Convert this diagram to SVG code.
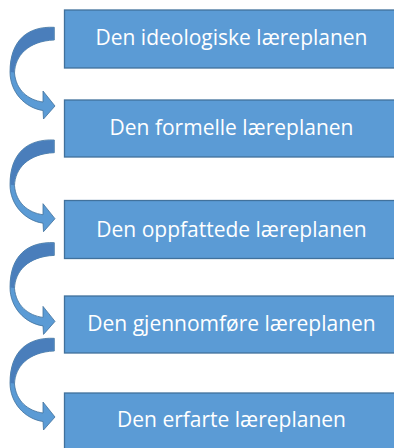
<svg xmlns="http://www.w3.org/2000/svg" width="394" height="448" viewBox="0 0 394 448">
<style>
.box{fill:#5B9BD5;stroke:#41719C;stroke-width:1.3}
.lbl{fill:#FFFFFF;font-family:"Open Sans","Liberation Sans",sans-serif;font-size:21px;text-anchor:middle}
.arr{fill:#5B9BD5;stroke:#41719C;stroke-width:0.8;stroke-linejoin:round}
.shade{fill:#4A7EBB}
</style>
<defs>
<g id="curvedArrow">
<path class="arr" d="M54.3,27.3 C28,26 10,40 10,72 C10,92 25,108 43,110.5 L43.5,119 L55,106 L43,91 L43,102 C28,100 16,90 14.5,73 C15,56 28,41 54.3,40 Z"/>
<path class="shade" d="M53.8,27.9 C28,26.6 10.6,40 10.6,72 L14,72.6 C14.6,56 28,41.5 53.8,39.5 Z"/>
</g>
</defs>
<g id="connectors">
<use href="#curvedArrow"/>
<use href="#curvedArrow" transform="translate(0,112.7)"/>
<use href="#curvedArrow" transform="translate(0,215.4)"/>
<use href="#curvedArrow" transform="translate(0,311)"/>
</g>
<g id="node1">
<rect class="box" x="64.5" y="10" width="334" height="58"/>
<text class="lbl" x="231.5" y="45">Den ideologiske læreplanen</text>
</g>
<g id="node2">
<rect class="box" x="64.5" y="100" width="334" height="57"/>
<text class="lbl" x="231.5" y="135">Den formelle læreplanen</text>
</g>
<g id="node3">
<rect class="box" x="64.5" y="200.5" width="334" height="58"/>
<text class="lbl" x="231.5" y="237">Den oppfattede læreplanen</text>
</g>
<g id="node4">
<rect class="box" x="64.5" y="296" width="334" height="57"/>
<text class="lbl" x="231.5" y="331">Den gjennomføre læreplanen</text>
</g>
<g id="node5">
<rect class="box" x="64.5" y="393" width="334" height="60"/>
<text class="lbl" x="231.5" y="427">Den erfarte læreplanen</text>
</g>
</svg>
